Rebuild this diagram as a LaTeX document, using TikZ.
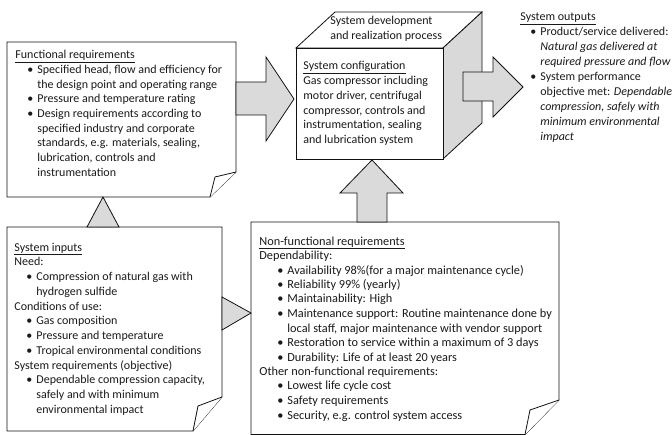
\documentclass[tikz,border=0pt]{standalone}
\usepackage{fontspec}
\setmainfont{Carlito}
\usepackage{xcolor}
\definecolor{textdark}{HTML}{1A1A1A}
\definecolor{linedark}{HTML}{111111}
\definecolor{arrowgray}{HTML}{DADADA}
\definecolor{sidegray}{HTML}{D9D9D9}
\usepackage{tikz}
\usetikzlibrary{calc}

\newcommand{\bpt}[2][12pt]{\hspace*{#1}\makebox[10pt][l]{\textbullet}#2}
\newcommand{\bnx}[2][12pt]{\hspace*{\dimexpr#1+10pt\relax}#2}

\begin{document}
\begin{tikzpicture}[x=1pt, y=-1pt, line width=0.8pt, line join=miter,
    txt/.style={anchor=base west, inner sep=0pt, align=left, text=textdark,
      font=\fontsize{12}{14.65}\selectfont},
    paper/.style={draw=linedark, fill=white},
    blockarrow/.style={draw=linedark, fill=arrowgray}]
        \useasboundingbox (0,0) rectangle (672,435);

        % Functional requirements (node sits on its last baseline)
        \draw[paper] (7,42) -- (236,42) -- (236,172) -- (210,197) -- (7,197) -- cycle;
        \draw[paper] (236,172) -- (215,177) -- (210,197);
        \node[txt] (func) at (15,176.2) {\underline{Functional requirements}\\
          \bpt{Specified head, flow and efficiency for}\\
          \bnx{the design point and operating range}\\
          \bpt{Pressure and temperature rating}\\
          \bpt{Design requirements according to}\\
          \bnx{specified industry and corporate}\\
          \bnx{standards, e.g. materials, sealing,}\\
          \bnx{lubrication, controls and}\\
          \bnx{instrumentation}};

        % System inputs
        \draw[paper] (7,227) -- (222,227) -- (222,397) -- (193,431) -- (7,431) -- cycle;
        \draw[paper] (222,397) -- (198,406) -- (193,431);
        \node[txt, font=\fontsize{12}{14.75}\selectfont] (inputs) at (14,413.3) {\underline{System inputs}\\
          Need:\\
          \bpt{Compression of natural gas with}\\
          \bnx{hydrogen sulfide}\\
          Conditions of use:\\
          \bpt{Gas composition}\\
          \bpt{Pressure and temperature}\\
          \bpt{Tropical environmental conditions}\\
          System requirements (objective)\\
          \bpt{Dependable compression capacity,}\\
          \bnx{safely and with minimum}\\
          \bnx{environmental impact}};

        % Non-functional requirements
        \draw[paper] (251,222) -- (559,222) -- (559,400) -- (525,434.6) -- (251,434.6) -- cycle;
        \draw[paper] (559,400) -- (530,410) -- (525,434.6);
        \node[txt, font=\fontsize{12.3}{14.5}\selectfont] (nonfunc) at (259,419) {\underline{Non-functional requirements}\\
          Dependability:\\
          \bpt[18pt]{Availability 98\%(for a major maintenance cycle)}\\
          \bpt[18pt]{Reliability 99\% (yearly)}\\
          \bpt[18pt]{Maintainability: High}\\
          \bpt[18pt]{Maintenance support: Routine maintenance done by}\\
          \bnx[18pt]{local staff, major maintenance with vendor support}\\
          \bpt[18pt]{Restoration to service within a maximum of 3 days}\\
          \bpt[18pt]{Durability: Life of at least 20 years}\\
          Other non-functional requirements:\\
          \bpt[18pt]{Lowest life cycle cost}\\
          \bpt[18pt]{Safety requirements}\\
          \bpt[18pt]{Security, e.g. control system access}};

        % System development cube
        \draw[paper] (296,48) -- (335,12) -- (482,12) -- (443,48) -- cycle;
        \draw[draw=linedark, fill=sidegray] (443,48) -- (482,12) -- (482,123) -- (443,159) -- cycle;
        \draw[paper] (296,48) rectangle (443,159);
        \node[txt, font=\fontsize{12}{14.5}\selectfont] (process) at (330,39.5) {System development\\and realization process};
        \node[txt, font=\fontsize{12}{14.7}\selectfont] (config) at (303,143.5) {\underline{System configuration}\\
          Gas compressor including\\
          motor driver, centrifugal\\
          compressor, controls and\\
          instrumentation, sealing\\
          and lubrication system};

        % System outputs
        \node[txt, font=\fontsize{12}{15}\selectfont] (outputs) at (520,141) {\underline{System outputs}\\
          \bpt[10pt]{Product/service delivered:}\\
          \bnx[10pt]{\textit{Natural gas delivered at}}\\
          \bnx[10pt]{\textit{required pressure and flow}}\\
          \bpt[10pt]{System performance}\\
          \bnx[10pt]{objective met: \textit{Dependable}}\\
          \bnx[10pt]{\textit{compression, safely with}}\\
          \bnx[10pt]{\textit{minimum environmental}}\\
          \bnx[10pt]{\textit{impact}}};

        % Block arrows
        \draw[blockarrow] (236,82) -- (266,82) -- (266,57) -- (294,99) -- (266,141) -- (266,115) -- (236,115) -- cycle;
        \draw[blockarrow] (463,72) -- (493,72) -- (493,57) -- (523,87) -- (493,117) -- (493,101) -- (463,101) -- cycle;
        \draw[blockarrow] (357,222) -- (357,193) -- (340,193) -- (372,160) -- (403,193) -- (387,193) -- (387,222) -- cycle;
        \draw[blockarrow] (87,227) -- (103,197) -- (119,227) -- cycle;
        \draw[blockarrow] (222,297) -- (251,313) -- (222,330) -- cycle;
      \end{tikzpicture}
\end{document}
